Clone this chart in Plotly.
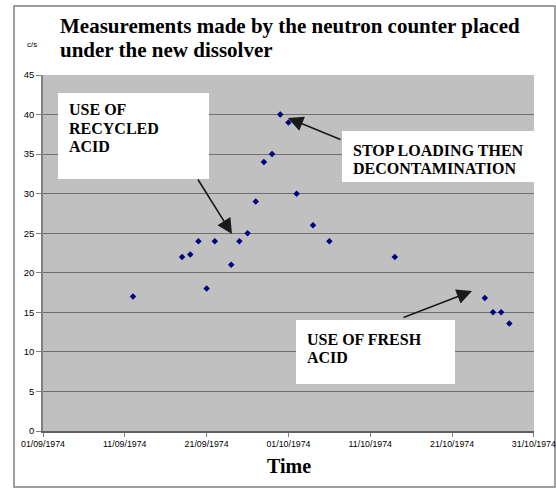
import plotly.graph_objects as go

# ---- data ----
dates = ["1974-09-12", "1974-09-18", "1974-09-19", "1974-09-20", "1974-09-21",
         "1974-09-22", "1974-09-24", "1974-09-25", "1974-09-26", "1974-09-27",
         "1974-09-28", "1974-09-29", "1974-09-30", "1974-10-01", "1974-10-02",
         "1974-10-04", "1974-10-06", "1974-10-14", "1974-10-25", "1974-10-26",
         "1974-10-27", "1974-10-28"]
counts = [17, 22, 22.3, 24, 18, 24, 21, 24, 25, 29, 34, 35, 40, 39, 30,
          26, 24, 22, 16.8, 15, 15, 13.6]

tick_dates = ["1974-09-01", "1974-09-11", "1974-09-21", "1974-10-01",
              "1974-10-11", "1974-10-21", "1974-10-31"]
tick_labels = ["01/09/1974", "11/09/1974", "21/09/1974", "01/10/1974",
               "11/10/1974", "21/10/1974", "31/10/1974"]

title_lines = ["Measurements made by the neutron counter placed", "under the new dissolver"]
note_recycled = ["USE OF", "RECYCLED", "ACID"]
note_stop = ["STOP LOADING THEN", "DECONTAMINATION"]
note_fresh = ["USE OF FRESH", "ACID"]

# ---- layout geometry (pixels) ----
W, H = 556, 488
L, R, T, B = 43, 22, 75, 57
PW, PH = W - L - R, H - T - B


def px(x):
    return (x - L) / PW


def py(y):
    return (H - B - y) / PH


SERIF = "Liberation Serif, Times New Roman, serif"
SANS = "Liberation Sans, Arial, sans-serif"

fig = go.Figure()
fig.add_trace(go.Scatter(
    x=dates, y=counts, mode="markers",
    marker=dict(symbol="diamond", size=5, color="#000080"),
    showlegend=False, hoverinfo="skip",
))

shapes = [
    # chart border
    dict(type="rect", xref="paper", yref="paper", x0=px(14), x1=px(555), y0=py(487), y1=py(6),
         line=dict(color="#808080", width=1.5), fillcolor="rgba(0,0,0,0)", layer="below"),
    # text boxes
    dict(type="rect", xref="paper", yref="paper", x0=px(58), x1=px(209), y0=py(179), y1=py(93),
         line=dict(width=0), fillcolor="white"),
    dict(type="rect", xref="paper", yref="paper", x0=px(342), x1=px(536), y0=py(182), y1=py(131),
         line=dict(width=0), fillcolor="white"),
    dict(type="rect", xref="paper", yref="paper", x0=px(296), x1=px(455), y0=py(384), y1=py(320),
         line=dict(width=0), fillcolor="white"),
]

annotations = []
# title
for line, yc in zip(title_lines, [26, 50]):
    annotations.append(dict(text="<b>" + line + "</b>", xref="paper", yref="paper",
                            x=px(58), y=py(yc), xanchor="left", yanchor="middle",
                            showarrow=False, font=dict(family=SERIF, size=21, color="black")))
# c/s
annotations.append(dict(text="c/s", xref="paper", yref="paper", x=px(32), y=py(45),
                        xanchor="center", yanchor="middle", showarrow=False,
                        font=dict(family=SANS, size=8, color="black")))
# Time
annotations.append(dict(text="<b>Time</b>", xref="paper", yref="paper", x=px(289), y=py(466),
                        xanchor="center", yanchor="middle", showarrow=False,
                        font=dict(family=SERIF, size=20, color="black")))


def note(lines, x0, ys):
    for line, yc in zip(lines, ys):
        annotations.append(dict(text="<b>" + line + "</b>", xref="paper", yref="paper",
                                x=px(x0), y=py(yc), xanchor="left", yanchor="middle",
                                showarrow=False, font=dict(family=SERIF, size=16, color="black")))


note(note_recycled, 67, [110, 128, 146])
note(note_stop, 351, [150, 168])
note(note_fresh, 305, [339, 357])


def arrow(tip, tail):
    annotations.append(dict(text="", xref="paper", yref="paper", x=px(tip[0]), y=py(tip[1]),
                            ax=tail[0] - tip[0], ay=tail[1] - tip[1], showarrow=True,
                            arrowhead=2, arrowsize=1.9, arrowwidth=1.6, arrowcolor="#1a1a1a",
                            standoff=0, startstandoff=0))


arrow((232, 234), (197, 178))
arrow((288, 118), (342, 140))
arrow((472, 291), (402, 318))

fig.update_layout(
    width=W, height=H,
    margin=dict(l=L, r=R, t=T, b=B, pad=0, autoexpand=False),
    paper_bgcolor="white", plot_bgcolor="#C0C0C0",
    shapes=shapes, annotations=annotations,
    xaxis=dict(type="date", range=["1974-09-01", "1974-10-31 00:20"],
               tickmode="array", tickvals=tick_dates, ticktext=tick_labels,
               ticklabeloverflow="allow", automargin=False,
               showgrid=False, zeroline=False,
               showline=True, linecolor="#606060", linewidth=1.5, ticks="outside", ticklen=4,
               tickcolor="#808080", tickfont=dict(family=SANS, size=8.8, color="black")),
    yaxis=dict(range=[0, 45], dtick=5, showgrid=True, gridcolor="#707070", gridwidth=1.3,
               zeroline=False, showline=True, linecolor="#808080", linewidth=1.5,
               ticks="outside", ticklen=5, tickcolor="#808080", automargin=False,
               tickfont=dict(family=SANS, size=9.5, color="black")),
)

fig.write_html("out.html", config={"displayModeBar": False},
               post_script="document.body.style.margin='0';document.body.style.overflow='hidden';")
